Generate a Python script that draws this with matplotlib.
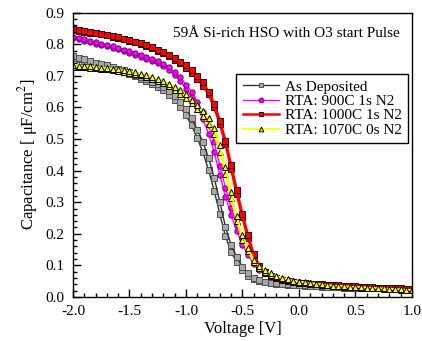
import matplotlib
matplotlib.use('Agg')
import matplotlib.pyplot as plt
from matplotlib.ticker import MultipleLocator, FormatStrFormatter

plt.rcParams['font.family'] = ['Liberation Serif', 'DejaVu Serif']
plt.rcParams['mathtext.fontset'] = 'stix'
plt.rcParams['axes.unicode_minus'] = False

# gate voltage grid [V]
voltage = [-2.00, -1.95, -1.90, -1.85, -1.80, -1.75, -1.70, -1.65, -1.60, -1.55,
           -1.50, -1.45, -1.40, -1.35, -1.30, -1.25, -1.20, -1.15, -1.10, -1.05,
           -1.00, -0.95, -0.90, -0.85, -0.80, -0.75, -0.70, -0.65, -0.60, -0.55,
           -0.50, -0.45, -0.40, -0.35, -0.30, -0.25, -0.20, -0.15, -0.10, -0.05,
           0.00, 0.05, 0.10, 0.15, 0.20, 0.25, 0.30, 0.35, 0.40, 0.45,
           0.50, 0.55, 0.60, 0.65, 0.70, 0.75, 0.80, 0.85, 0.90, 0.95, 1.00]

# capacitance [uF/cm2], two sweeps per sample
asdep_a = [0.763, 0.757, 0.752, 0.747, 0.742, 0.738, 0.733, 0.728, 0.723, 0.717,
           0.711, 0.704, 0.697, 0.690, 0.682, 0.673, 0.664, 0.651, 0.636, 0.618,
           0.595, 0.566, 0.530, 0.490, 0.440, 0.378, 0.300, 0.222, 0.165, 0.126,
           0.095, 0.075, 0.061, 0.053, 0.048, 0.045, 0.043, 0.041, 0.040, 0.039,
           0.038, 0.037, 0.036, 0.035, 0.034, 0.033, 0.032, 0.031, 0.031, 0.030,
           0.030, 0.029, 0.029, 0.028, 0.028, 0.027, 0.027, 0.026, 0.026, 0.025, 0.025]
asdep_b = [0.757, 0.752, 0.747, 0.742, 0.738, 0.733, 0.728, 0.723, 0.718, 0.712,
           0.705, 0.698, 0.691, 0.683, 0.675, 0.665, 0.654, 0.640, 0.622, 0.601,
           0.575, 0.543, 0.503, 0.458, 0.402, 0.336, 0.262, 0.192, 0.143, 0.110,
           0.085, 0.068, 0.057, 0.050, 0.046, 0.043, 0.041, 0.040, 0.039, 0.038,
           0.037, 0.036, 0.035, 0.034, 0.033, 0.032, 0.031, 0.031, 0.030, 0.030,
           0.029, 0.029, 0.028, 0.028, 0.027, 0.027, 0.026, 0.026, 0.025, 0.025, 0.024]

rta900_a = [0.824, 0.820, 0.815, 0.811, 0.806, 0.802, 0.797, 0.793, 0.788, 0.783,
            0.778, 0.772, 0.766, 0.760, 0.753, 0.746, 0.738, 0.727, 0.712, 0.695,
            0.672, 0.648, 0.618, 0.585, 0.545, 0.490, 0.415, 0.345, 0.283, 0.228,
            0.183, 0.146, 0.116, 0.094, 0.080, 0.069, 0.062, 0.057, 0.053, 0.050,
            0.047, 0.045, 0.043, 0.041, 0.040, 0.038, 0.037, 0.036, 0.035, 0.034,
            0.033, 0.032, 0.031, 0.030, 0.030, 0.029, 0.028, 0.028, 0.027, 0.026, 0.026]
rta900_b = [0.820, 0.816, 0.811, 0.807, 0.802, 0.798, 0.793, 0.789, 0.784, 0.779,
            0.773, 0.767, 0.761, 0.754, 0.747, 0.739, 0.730, 0.718, 0.702, 0.683,
            0.659, 0.632, 0.600, 0.562, 0.517, 0.458, 0.385, 0.318, 0.260, 0.208,
            0.166, 0.133, 0.106, 0.087, 0.075, 0.066, 0.060, 0.055, 0.051, 0.048,
            0.046, 0.044, 0.042, 0.040, 0.039, 0.037, 0.036, 0.035, 0.034, 0.033,
            0.032, 0.031, 0.030, 0.029, 0.029, 0.028, 0.027, 0.027, 0.026, 0.025, 0.025]

rta1000_a = [0.848, 0.845, 0.842, 0.839, 0.836, 0.833, 0.830, 0.826, 0.822, 0.818,
             0.813, 0.808, 0.803, 0.797, 0.790, 0.783, 0.775, 0.766, 0.756, 0.745,
             0.733, 0.718, 0.700, 0.680, 0.650, 0.612, 0.558, 0.495, 0.418, 0.338,
             0.262, 0.195, 0.135, 0.098, 0.080, 0.068, 0.060, 0.055, 0.051, 0.048,
             0.045, 0.044, 0.042, 0.041, 0.040, 0.039, 0.038, 0.037, 0.036, 0.035,
             0.034, 0.033, 0.032, 0.031, 0.030, 0.029, 0.028, 0.028, 0.027, 0.026, 0.025]
rta1000_b = [0.846, 0.843, 0.840, 0.837, 0.834, 0.831, 0.828, 0.824, 0.820, 0.816,
             0.811, 0.806, 0.800, 0.794, 0.787, 0.780, 0.771, 0.762, 0.751, 0.739,
             0.726, 0.710, 0.691, 0.669, 0.642, 0.600, 0.548, 0.485, 0.405, 0.325,
             0.252, 0.186, 0.128, 0.094, 0.077, 0.066, 0.059, 0.054, 0.050, 0.047,
             0.044, 0.043, 0.041, 0.040, 0.039, 0.038, 0.037, 0.036, 0.035, 0.034,
             0.033, 0.032, 0.031, 0.030, 0.029, 0.028, 0.028, 0.027, 0.026, 0.025, 0.024]

rta1070_a = [0.733, 0.732, 0.731, 0.730, 0.728, 0.726, 0.724, 0.722, 0.720, 0.717,
             0.714, 0.711, 0.707, 0.702, 0.697, 0.691, 0.684, 0.675, 0.665, 0.654,
             0.641, 0.625, 0.607, 0.588, 0.565, 0.535, 0.480, 0.412, 0.333, 0.257,
             0.195, 0.155, 0.118, 0.098, 0.085, 0.075, 0.067, 0.061, 0.056, 0.052,
             0.049, 0.046, 0.044, 0.042, 0.040, 0.038, 0.036, 0.035, 0.034, 0.033,
             0.032, 0.031, 0.030, 0.029, 0.028, 0.027, 0.026, 0.025, 0.024, 0.023, 0.022]
rta1070_b = [0.728, 0.728, 0.727, 0.726, 0.724, 0.722, 0.720, 0.718, 0.715, 0.712,
             0.709, 0.705, 0.701, 0.696, 0.690, 0.684, 0.676, 0.667, 0.656, 0.644,
             0.630, 0.613, 0.594, 0.573, 0.548, 0.515, 0.458, 0.390, 0.312, 0.240,
             0.182, 0.145, 0.110, 0.092, 0.080, 0.071, 0.064, 0.058, 0.054, 0.050,
             0.047, 0.045, 0.043, 0.041, 0.039, 0.037, 0.035, 0.034, 0.033, 0.032,
             0.031, 0.030, 0.029, 0.028, 0.027, 0.026, 0.025, 0.024, 0.023, 0.022, 0.021]

series = [
    ('As Deposited', asdep_a, asdep_b, dict(color='#303030', marker='s', mfc='#a8a8a8', mec='#505050', lw=1.0)),
    ('RTA: 900C 1s N2', rta900_a, rta900_b, dict(color='#ff00ff', marker='o', mfc='#ff00ff', mec='#700070', lw=1.0)),
    ('RTA: 1000C 1s N2', rta1000_a, rta1000_b, dict(color='#ff0000', marker='s', mfc='#ff0000', mec='#300000', lw=1.8)),
    ('RTA: 1070C 0s N2', rta1070_a, rta1070_b, dict(color='#ffff00', marker='^', mfc='#ffff00', mec='#000000', lw=1.3)),
]

fig = plt.figure(figsize=(4.22, 3.41), dpi=100)
ax = fig.add_axes([0.173, 0.129, 0.803, 0.834])

handles = []
for label, ca, cb, st in series:
    ax.plot(voltage, cb, ms=3.8, mew=0.7, **st)
    h, = ax.plot(voltage, ca, ms=3.8, mew=0.7, label=label, **st)
    handles.append(h)

ax.set_xlim(-2.0, 1.0)
ax.set_ylim(0.0, 0.9)
ax.xaxis.set_major_locator(MultipleLocator(0.5))
ax.xaxis.set_minor_locator(MultipleLocator(0.1))
ax.yaxis.set_major_locator(MultipleLocator(0.1))
ax.yaxis.set_minor_locator(MultipleLocator(0.02))
ax.xaxis.set_major_formatter(FormatStrFormatter('%.1f'))
ax.yaxis.set_major_formatter(FormatStrFormatter('%.1f'))
ax.tick_params(which='both', direction='in', labelsize=11, width=1.0)
ax.tick_params(which='major', length=6, pad=6)
ax.tick_params(which='minor', length=3)
for sp in ax.spines.values():
    sp.set_linewidth(1.0)

ax.set_xlabel('Voltage [V]', fontsize=12, labelpad=2)
ax.set_ylabel('Capacitance [ μF/cm$^{2}$]', fontsize=12, labelpad=4)

ax.text(0.63, 0.925, '59Å Si-rich HSO with O3 start Pulse', transform=ax.transAxes,
        ha='center', va='center', fontsize=11)

leg = ax.legend(handles=handles, loc='upper right', bbox_to_anchor=(0.99, 0.785),
                fontsize=11, numpoints=1, handlelength=2.4, fancybox=False,
                framealpha=1, edgecolor='black', borderpad=0.4, labelspacing=0.05,
                handletextpad=0.4, borderaxespad=0, markerscale=0.9)
leg.get_frame().set_linewidth(1.0)

plt.savefig('out.png', dpi=100)
